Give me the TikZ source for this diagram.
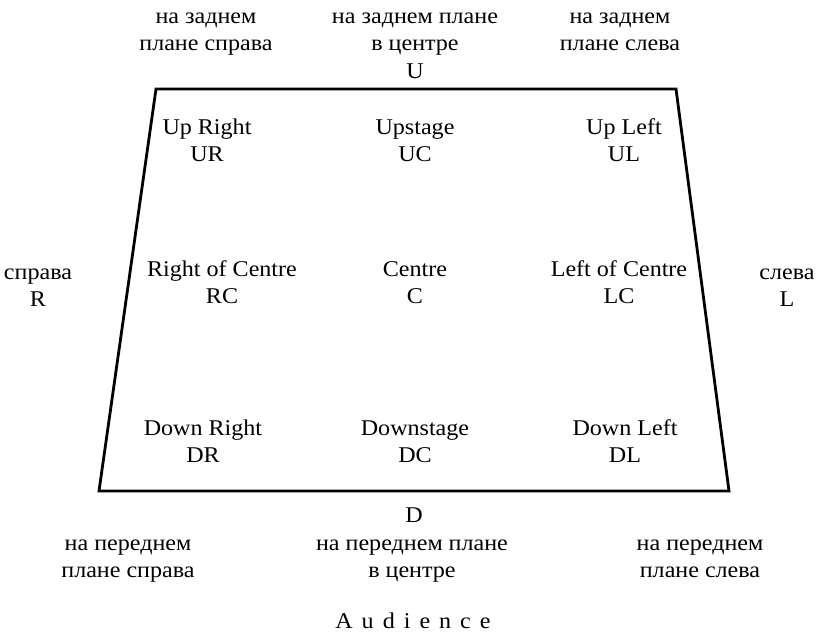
\documentclass[tikz,border=0pt]{standalone}
\usepackage{fontspec}
\setmainfont[FakeStretch=1.07]{Liberation Serif}
\begin{document}
\begin{tikzpicture}[x=1pt,y=-1pt,
  lbl/.style={anchor=base,align=center,inner sep=0pt,font=\fontsize{22.5}{27}\selectfont},
  stage/.style={line width=2.8pt,line join=miter}]
\useasboundingbox[fill=white] (0,0) rectangle (824,636);
% stage outline
\coordinate (tl) at (156,89);
\coordinate (tr) at (676,89);
\coordinate (br) at (729,491);
\coordinate (bl) at (99,491);
\draw[stage] (tl) -- (tr) -- (br) -- (bl) -- cycle;
% top labels (anchor = baseline of last line)
\node[lbl] (usr) at (206,51) {на заднем\\плане справа};
\node[lbl] (usc) at (415,51) {на заднем плане\\в центре};
\node[lbl] (usl) at (620,51) {на заднем\\плане слева};
\node[lbl] (u) at (415,79) {U};
% upstage row
\node[lbl] (ur) at (207,162) {Up Right\\UR};
\node[lbl] (uc) at (415,162) {Upstage\\UC};
\node[lbl] (ul) at (624,162) {Up Left\\UL};
% centre row
\node[lbl] (r) at (38,306) {справа\\R};
\node[lbl] (rc) at (222,303) {Right of Centre\\RC};
\node[lbl] (c) at (415,303) {Centre\\C};
\node[lbl] (lc) at (619,303) {Left of Centre\\LC};
\node[lbl] (l) at (787,306) {слева\\L};
% downstage row
\node[lbl] (dr) at (203,462) {Down Right\\DR};
\node[lbl] (dc) at (415,462) {Downstage\\DC};
\node[lbl] (dl) at (625,462) {Down Left\\DL};
\node[lbl] (d) at (414,522) {D};
% bottom labels
\node[lbl] (dsr) at (128,577) {на переднем\\плане справа};
\node[lbl] (dsc) at (412,577) {на переднем плане\\в центре};
\node[lbl] (dsl) at (700,577) {на переднем\\плане слева};
\node[lbl] (aud) at (413,628) {A\kern9pt u\kern9pt d\kern9pt i\kern9pt e\kern9pt n\kern9pt c\kern9pt e};
\end{tikzpicture}
\end{document}
